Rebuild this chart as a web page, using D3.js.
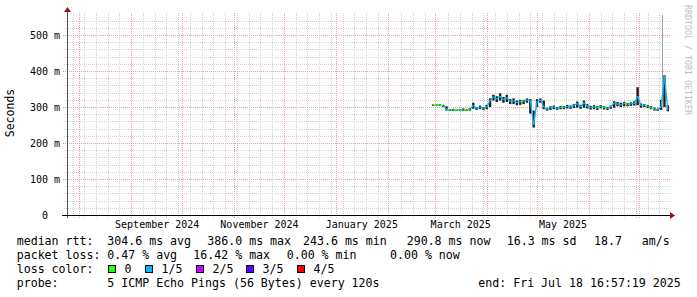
<!DOCTYPE html>
<html>
<head>
<meta charset="utf-8">
<script src="https://cdn.jsdelivr.net/npm/d3@7"></script>
<style>
body { margin: 0; background: #fff; }
svg { display: block; }
text { font-family: "DejaVu Sans Mono", monospace; white-space: pre; }
</style>
</head>
<body>
<div id="chart"></div>
<script>
var width = 697, height = 297

// time window of the graph
var startTime = new Date("2024-07-24T16:57:19")
var endTime = new Date("2025-07-18T16:57:19")

// samples every 2 days from firstSample
var firstSample = new Date("2025-02-28T00:00:00")
var stepDays = 2
var median = [305,305,306,304,293,291,292,291,293,292,291,294,305,296,300,296,299,318,328,322,
              330,320,326,315,318,312,315,316,320,318,250,316,320,300,294,298,300,296,299,298,
              302,300,304,310,300,312,302,298,300,297,302,298,296,300,312,308,306,310,307,309,
              310,330,304,305,302,298,294,292,300,386,291]
var smokeLo = [303,303,303,300,290,289,289,289,290,289,289,290,295,292,294,292,294,300,318,314,
               318,312,314,308,308,305,306,308,312,282,243,300,312,294,290,292,294,292,294,294,
               296,295,297,298,295,298,296,293,294,292,296,293,292,295,298,302,300,302,302,303,
               304,305,298,300,297,294,290,289,292,300,288]
var smokeHi = [307,307,308,306,302,294,295,293,295,296,294,297,312,300,304,300,306,324,334,330,
               338,328,334,322,324,318,320,320,324,322,290,322,324,318,298,302,304,300,303,302,
               306,304,308,315,306,318,308,303,305,302,305,302,300,304,316,314,312,314,311,313,
               316,355,310,308,306,302,298,296,320,388,305]
// lost pings out of 5 for each sample
var loss = [0,0,0,0,1,0,1,0,0,1,0,0,1,1,1,1,1,1,1,1,
            1,1,1,1,1,1,1,0,1,1,1,1,1,1,1,1,1,1,1,0,
            1,1,1,1,1,1,1,1,1,1,0,1,0,1,1,1,1,1,0,1,
            1,1,1,1,0,1,0,1,1,1,1]
// single ping far above the scale
var spikeDates = ["2025-07-14T12:00:00"]
var spikeValues = [650]
var spikeBase = [320]

var yTicks = [0, 100, 200, 300, 400, 500]
var yLabels = ["0  ", "100 m", "200 m", "300 m", "400 m", "500 m"]
var yMax = 555.6
var monthLabels = ["September 2024", "November 2024", "January 2025", "March 2025", "May 2025"]
var monthLabelDates = ["2024-09-16T12:00:00", "2024-11-16T12:00:00", "2025-01-16T12:00:00",
                       "2025-03-16T12:00:00", "2025-05-16T12:00:00"]

var lossNames = ["0", "1/5", "2/5", "3/5", "4/5"]
var lossColors = ["#26ff00", "#00b8ff", "#c800ff", "#6000ff", "#ff0000"]

var rttLegend = ["median rtt:", "304.6 ms avg", "386.0 ms max", "243.6 ms min", "290.8 ms now", "16.3 ms sd", "18.7", "am/s"]
var lossLegend = ["packet loss:", "0.47 % avg", "16.42 % max", "0.00 % min", "0.00 % now"]
var probeLegend = ["probe:", "5 ICMP Echo Pings (56 Bytes) every 120s", "end: Fri Jul 18 16:57:19 2025"]

var pLeft = 67, pRight = 669, pTop = 15, pBottom = 215

var svg = d3.select("#chart").append("svg")
    .attr("width", width)
    .attr("height", height)

var x = d3.scaleTime().domain([startTime, endTime]).range([pLeft, pRight])
var y = d3.scaleLinear().domain([0, yMax]).range([pBottom, pTop])

var dates = median.map((d, i) => d3.timeDay.offset(firstSample, i * stepDays))

// grid
var grid = svg.append("g")
var minorY = d3.range(20, yMax, 20).filter(v => v % 100 != 0)
grid.selectAll(".hmin").data(minorY).enter().append("line")
    .attr("x1", pLeft - 3).attr("x2", pRight + 2)
    .attr("y1", d => Math.round(y(d)) + 0.5).attr("y2", d => Math.round(y(d)) + 0.5)
    .attr("stroke", "#d2d2d2").attr("stroke-dasharray", "1,1")
var months = d3.timeMonth.range(startTime, endTime)
var weeks = d3.timeSunday.range(startTime, endTime)
    .filter(w => !months.some(m => Math.abs(x(m) - x(w)) < 2))
grid.selectAll(".vmin").data(weeks).enter().append("line")
    .attr("x1", d => Math.round(x(d)) + 0.5).attr("x2", d => Math.round(x(d)) + 0.5)
    .attr("y1", pTop - 2).attr("y2", pBottom + 3)
    .attr("stroke", "#d2d2d2").attr("stroke-dasharray", "1,1")
grid.selectAll(".hmaj").data(yTicks.slice(1)).enter().append("line")
    .attr("x1", pLeft - 4).attr("x2", pRight + 2)
    .attr("y1", d => Math.round(y(d)) + 0.5).attr("y2", d => Math.round(y(d)) + 0.5)
    .attr("stroke", "#e8a4a4").attr("stroke-dasharray", "1,1")
grid.selectAll(".vmaj").data(months).enter().append("line")
    .attr("x1", d => Math.round(x(d)) + 0.5).attr("x2", d => Math.round(x(d)) + 0.5)
    .attr("y1", pTop - 2).attr("y2", pBottom + 3)
    .attr("stroke", "#e8a4a4").attr("stroke-dasharray", "1,1")

// data
svg.append("clipPath").attr("id", "clip").append("rect")
    .attr("x", pLeft).attr("y", pTop).attr("width", pRight - pLeft).attr("height", pBottom - pTop)
var plot = svg.append("g").attr("clip-path", "url(#clip)")
var half = (x(dates[1]) - x(dates[0])) / 2

plot.selectAll(".spike").data(spikeDates).enter().append("line")
    .attr("x1", d => Math.round(x(new Date(d))) + 0.5).attr("x2", d => Math.round(x(new Date(d))) + 0.5)
    .attr("y1", (d, i) => y(spikeValues[i])).attr("y2", (d, i) => y(spikeBase[i]))
    .attr("stroke", "#a0a0a0").attr("stroke-width", 1)

plot.selectAll(".smoke").data(dates).enter().append("rect")
    .attr("x", d => x(d) - half * 0.7)
    .attr("width", half * 1.4)
    .attr("y", (d, i) => y(smokeHi[i]))
    .attr("height", (d, i) => y(smokeLo[i]) - y(smokeHi[i]))
    .attr("fill", "#1c1c1c")

plot.selectAll(".med").data(dates.slice(1)).enter().append("line")
    .attr("x1", (d, i) => x(dates[i])).attr("y1", (d, i) => y(median[i]))
    .attr("x2", d => x(d)).attr("y2", (d, i) => y(median[i + 1]))
    .attr("stroke", (d, i) => lossColors[loss[i + 1]])
    .attr("stroke-width", 1.3)

// axes
svg.append("line").attr("x1", pLeft + 0.5).attr("x2", pLeft + 0.5)
    .attr("y1", pBottom + 3).attr("y2", 11)
    .attr("stroke", "#505050")
svg.append("line").attr("x1", pLeft - 5).attr("x2", pRight + 2)
    .attr("y1", pBottom + 0.5).attr("y2", pBottom + 0.5)
    .attr("stroke", "#000")
svg.append("path").attr("d", `M${pLeft + 0.5},7 L${pLeft - 3},12 L${pLeft + 4},12 Z`).attr("fill", "#8b1a1a")
svg.append("path").attr("d", `M${pRight + 6},${pBottom + 0.5} L${pRight + 1},${pBottom - 3} L${pRight + 1},${pBottom + 4} Z`).attr("fill", "#8b1a1a")

svg.selectAll(".ylab").data(yTicks).enter().append("text")
    .attr("x", 60).attr("y", d => y(d) + 3.5)
    .attr("text-anchor", "end")
    .attr("xml:space", "preserve")
    .style("font-size", "10px")
    .text((d, i) => yLabels[i])

svg.selectAll(".xlab").data(monthLabelDates).enter().append("text")
    .attr("x", d => x(new Date(d))).attr("y", 228)
    .attr("text-anchor", "middle")
    .style("font-size", "10px")
    .text((d, i) => monthLabels[i])

svg.append("text")
    .attr("transform", "translate(14,113) rotate(-90)")
    .attr("text-anchor", "middle")
    .style("font-size", "11.5px")
    .text("Seconds")

svg.append("text")
    .attr("transform", "translate(685,5) rotate(90)")
    .style("font-size", "8.3px")
    .attr("fill", "#c0c0c0")
    .text("RRDTOOL / TOBI OETIKER")

// legend
var fs = "11.6px"
var rttX = [16.7, 107.3, 207.3, 303, 406.7, 506.7, 594, 641.7]
var lossX = [16.7, 107.3, 193.3, 286.7, 390]
var probeX = [16.7, 107.3, 478.3]
function legendRow(items, xs, yy) {
    svg.selectAll(null).data(items).enter().append("text")
        .attr("x", (d, i) => xs[i]).attr("y", yy)
        .attr("xml:space", "preserve")
        .style("font-size", fs)
        .text(d => d)
}
legendRow(rttLegend, rttX, 245)
legendRow(lossLegend, lossX, 259)
svg.append("text").attr("x", 16.7).attr("y", 273).style("font-size", fs).text("loss color:")
var swX = [108.5, 145.5, 196.5, 246.5, 297.5]
svg.selectAll(".sw").data(lossNames).enter().append("rect")
    .attr("x", (d, i) => swX[i]).attr("y", 265.5)
    .attr("width", 7).attr("height", 7)
    .attr("fill", (d, i) => lossColors[i])
    .attr("stroke", "#000")
svg.selectAll(".swl").data(lossNames).enter().append("text")
    .attr("x", (d, i) => swX[i] + 16).attr("y", 273)
    .style("font-size", fs)
    .text(d => d)
legendRow(probeLegend, probeX, 287)
</script>
</body>
</html>
